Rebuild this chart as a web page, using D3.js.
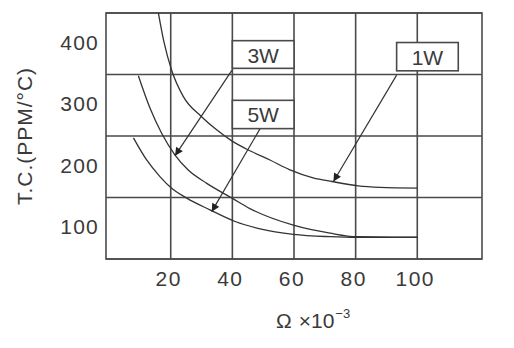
<!DOCTYPE html>
<html>
<head>
<meta charset="utf-8">
<script src="https://cdn.jsdelivr.net/npm/d3@7"></script>
<style>
  body { margin: 0; background: #fff; }
  svg text { font-family: "Liberation Sans", Arial, sans-serif; fill: #3a3a3a; }
</style>
</head>
<body>
<div class="svg-container"></div>
<script>
// values (x in ohm x10^-3, y in PPM/°C)
var xTicks = [20, 40, 60, 80, 100];
var yTicks = [100, 200, 300, 400];
var yGrid = [50, 150, 250, 350, 450];

var curve1W = [[16.0, 450], [17.8, 403], [20.3, 357], [24.1, 314], [30.1, 281], [34.9, 260],
               [39.8, 242], [45.7, 226], [52.2, 211], [58.7, 195], [66.2, 182],
               [72.3, 176], [80.8, 169], [87.9, 166.6], [100, 165.4]];
var curve3W = [[9.5, 348], [13.3, 295], [17.1, 254], [21.4, 219], [25.6, 195],
               [31.7, 173], [39.9, 149], [45.7, 132], [59.8, 105], [71.7, 92],
               [80.3, 86.3], [100, 85.5]];
var curve5W = [[7.9, 247], [12.2, 211], [16.5, 184], [20.3, 165], [25.2, 149],
               [32.7, 130], [40.9, 111], [49.0, 99], [59.8, 90], [71.7, 86.3],
               [80.3, 85.2], [100, 85.2]];

var labels = ["3W", "5W", "1W"];
var labelBoxes = [[40, 60, 405, 360], [40, 60, 308, 262], [93.3, 113.3, 402, 356]];
var arrowFrom = [[39.9, 357], [49.0, 262], [93.3, 349]];
var arrowTo = [[21.4, 218], [33.3, 127], [72.8, 176]];

var width = 514, height = 348;
var pLeft = 106, pRight = 482, pTop = 13, pBottom = 259;

var svg = d3.select('.svg-container').append('svg')
  .attr('width', width)
  .attr('height', height);

svg.append('defs').append('marker')
  .attr('id', 'head')
  .attr('viewBox', '0 0 10 10')
  .attr('refX', 10).attr('refY', 5)
  .attr('markerWidth', 10).attr('markerHeight', 8)
  .attr('markerUnits', 'userSpaceOnUse')
  .attr('orient', 'auto')
  .append('path')
  .attr('d', 'M0,0L10,5L0,10Z')
  .attr('fill', '#222');

var x = d3.scaleLinear().domain([-1, 121]).range([pLeft, pRight]);
var y = d3.scaleLinear().domain([50, 450]).range([pBottom, pTop]);

var grid = svg.append('g')
  .attr('stroke', '#4a4a4a')
  .attr('stroke-width', 1.6);

grid.selectAll('.vline')
  .data(xTicks)
  .enter().append('line')
  .attr('class', 'vline')
  .attr('x1', function(d) { return x(d); })
  .attr('x2', function(d) { return x(d); })
  .attr('y1', pTop).attr('y2', pBottom);

grid.selectAll('.hline')
  .data(yGrid)
  .enter().append('line')
  .attr('class', 'hline')
  .attr('x1', pLeft).attr('x2', pRight)
  .attr('y1', function(d) { return y(d); })
  .attr('y2', function(d) { return y(d); });

grid.append('rect')
  .attr('x', pLeft).attr('y', pTop)
  .attr('width', pRight - pLeft).attr('height', pBottom - pTop)
  .attr('fill', 'none');

// curves
var line = d3.line()
  .x(function(d) { return x(d[0]); })
  .y(function(d) { return y(d[1]); })
  .curve(d3.curveMonotoneX);

svg.selectAll('.curve')
  .data([curve1W, curve3W, curve5W])
  .enter().append('path')
  .attr('class', 'curve')
  .attr('d', line)
  .attr('fill', 'none')
  .attr('stroke', '#333')
  .attr('stroke-width', 1.3);

// arrows
svg.selectAll('.arrow')
  .data(arrowFrom)
  .enter().append('line')
  .attr('class', 'arrow')
  .attr('x1', function(d) { return x(d[0]); })
  .attr('y1', function(d) { return y(d[1]); })
  .attr('x2', function(d, i) { return x(arrowTo[i][0]); })
  .attr('y2', function(d, i) { return y(arrowTo[i][1]); })
  .attr('stroke', '#333')
  .attr('stroke-width', 1.2)
  .attr('marker-end', 'url(#head)');

// label boxes
var boxes = svg.selectAll('.box')
  .data(labelBoxes)
  .enter().append('g')
  .attr('class', 'box');

boxes.append('rect')
  .attr('x', function(d) { return x(d[0]); })
  .attr('y', function(d) { return y(d[2]); })
  .attr('width', function(d) { return x(d[1]) - x(d[0]); })
  .attr('height', function(d) { return y(d[3]) - y(d[2]); })
  .attr('fill', '#fff')
  .attr('stroke', '#4a4a4a')
  .attr('stroke-width', 1.6);

boxes.append('text')
  .attr('x', function(d) { return (x(d[0]) + x(d[1])) / 2; })
  .attr('y', function(d) { return (y(d[2]) + y(d[3])) / 2 + 8; })
  .attr('text-anchor', 'middle')
  .attr('font-size', 21)
  .text(function(d, i) { return labels[i]; });

// tick labels
svg.selectAll('.xtick')
  .data(xTicks)
  .enter().append('text')
  .attr('class', 'xtick')
  .attr('x', function(d) { return x(d) - 2; })
  .attr('y', 286)
  .attr('text-anchor', 'middle')
  .attr('font-size', 21)
  .attr('letter-spacing', 1.5)
  .text(function(d) { return d; });

svg.selectAll('.ytick')
  .data(yTicks)
  .enter().append('text')
  .attr('class', 'ytick')
  .attr('x', 99)
  .attr('y', function(d) { return y(d) + 6; })
  .attr('text-anchor', 'end')
  .attr('font-size', 21)
  .attr('letter-spacing', 1.2)
  .text(function(d) { return d; });

// axis titles
svg.append('text')
  .attr('transform', 'translate(32,136) rotate(-90)')
  .attr('text-anchor', 'middle')
  .attr('font-size', 21)
  .attr('letter-spacing', 1)
  .text('T.C.(PPM/°C)');

var xt = svg.append('text')
  .attr('x', 276)
  .attr('y', 328)
  .attr('font-size', 21);
xt.append('tspan').text('Ω');
xt.append('tspan').attr('dx', 7).text('×10');
xt.append('tspan')
  .attr('dx', 1)
  .attr('dy', -10)
  .attr('font-size', 13)
  .text('−3');
</script>
</body>
</html>
